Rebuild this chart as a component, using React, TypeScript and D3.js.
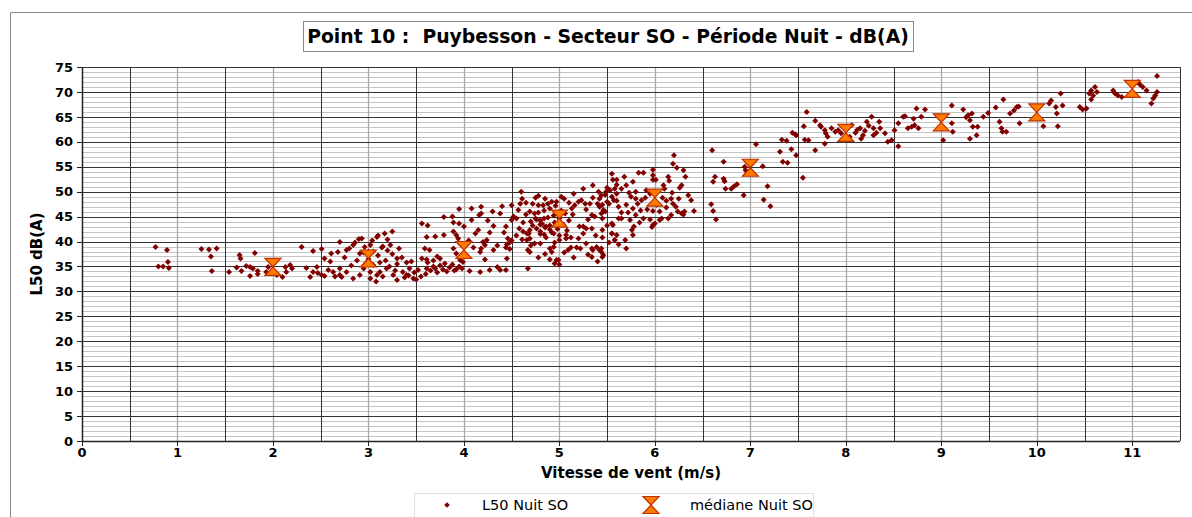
import React from "react";
import * as d3 from "d3";

const titleText = "Point 10 :  Puybesson - Secteur SO - Période Nuit - dB(A)";
const xAxisTitle = "Vitesse de vent (m/s)";
const yAxisTitle = "L50 dB(A)";
const seriesNames = ["L50 Nuit SO", "médiane Nuit SO"];
const xTicks = [0, 1, 2, 3, 4, 5, 6, 7, 8, 9, 10, 11];
const yTicks = [0, 5, 10, 15, 20, 25, 30, 35, 40, 45, 50, 55, 60, 65, 70, 75];

const medianSpeed = [2, 3, 4, 5, 6, 7, 8, 9, 10, 11];
const medianLevel = [34.9, 36.6, 38.3, 44.6, 48.8, 54.8, 61.8, 63.9, 65.9, 70.6];

const l50Points: [number, number][] = [
  [0.77, 38.9], [0.89, 38.3], [0.9, 35.9], [0.8, 35], [0.85, 35], [0.91, 34.7],
  [1.25, 38.5], [1.33, 38.4], [1.41, 38.6], [1.35, 37], [1.36, 34.1],
  [1.54, 33.9], [1.65, 37.3], [1.81, 37.7], [1.62, 34.8], [1.67, 34.1], [1.76, 34.9], [1.72, 35.1],
  [1.79, 34.6], [1.84, 34.1], [1.84, 33.5], [1.76, 33.1], [1.66, 36.6],
  [1.93, 33.9], [1.95, 34.9], [2.13, 34.9], [2.14, 33.9], [2.2, 34.6], [2.1, 32.9], [2.04, 33.3], [2.18, 35.3],
  [2.3, 38.9], [2.42, 38.1], [2.51, 38.5], [2.35, 34.7], [2.39, 32.9], [2.42, 33.9], [2.46, 34.9], [2.47, 33.7],
  [2.51, 33.3], [2.54, 33.1], [2.58, 34.3], [2.54, 36.6], [2.61, 37.6], [2.68, 37.9], [2.7, 39.9], [2.77, 38.3],
  [2.84, 39.3], [2.91, 37.6], [2.93, 40.6], [3.02, 39.3], [3.09, 40.9], [3.17, 41.6], [3.23, 39.3], [3.3, 36.6],
  [2.63, 33.9], [2.7, 34.6], [2.7, 33.3], [2.77, 33.9], [2.84, 32.6], [2.91, 33.3], [2.95, 34.6], [3.02, 33.9],
  [3.05, 35.3], [3.09, 33.3], [3.12, 33.9], [3.19, 34.6], [3.26, 33.3], [3.3, 32.3], [3.36, 33.9], [3.4, 33.3],
  [3.43, 34.6], [3.47, 32.6], [3.52, 34.3], [3.56, 36.6], [3.59, 38.6], [3.61, 34.6], [3.61, 40.9],
  [2.8, 38.6], [2.86, 39.8], [3.0, 38.0], [3.04, 40.2], [3.14, 38.8], [3.2, 40.4], [2.96, 38.9],
  [3.0, 36.5], [3.05, 38], [3.1, 37.2], [3.12, 35.8], [3.15, 39], [3.18, 36.2], [3.2, 38.2], [3.22, 35],
  [3.25, 37.5], [3.28, 34.2], [3.3, 35.5], [3.32, 38.6], [3.35, 36.8], [3.38, 32.8], [3.4, 35.8], [3.42, 33.2],
  [3.45, 36], [3.48, 33.8], [3.5, 32.4], [3.02, 32.6], [3.08, 32], [3.15, 33], [2.98, 35.8], [2.95, 37.8],
  [2.88, 36.2], [2.82, 35.2], [2.75, 36.8], [2.9, 40.5], [3.1, 41.2], [3.25, 42], [2.6, 36], [2.65, 33],
  [2.72, 32.9], [3.55, 33], [3.6, 33.5],
  [3.56, 43.6], [3.61, 36.4], [3.64, 38.3], [3.79, 44.9], [3.79, 41.3], [3.89, 43.8], [3.95, 43.6],
  [3.89, 42.0], [3.92, 41.3], [3.94, 40.6], [3.89, 38.6], [3.96, 39.6], [3.92, 37.6], [3.96, 36.3], [3.99, 35.9],
  [3.92, 34.4], [4.06, 34.1], [4.17, 33.9], [4.27, 34.3], [4.35, 34.9], [4.38, 34.3], [4.44, 34.3],
  [3.65, 34.2], [3.68, 35], [3.7, 34.6], [3.72, 33.8], [3.75, 35.2], [3.78, 34.4], [3.8, 35.6], [3.82, 34],
  [3.85, 34.8], [3.88, 35.4], [3.9, 34.2], [3.68, 36.2], [3.72, 37], [3.75, 36.6], [3.62, 35.8], [3.95, 35], [3.98, 34.6],
  [4.08, 46.6], [4.08, 44.3], [4.18, 47.0], [4.18, 45.6], [4.16, 45.3], [4.15, 42.3], [4.2, 39.9], [4.18, 38.6],
  [4.17, 37.9], [4.22, 39.3], [4.24, 40.3], [4.27, 41.8], [4.31, 43.1], [4.31, 38.3], [4.4, 47.1], [4.44, 43.0],
  [4.45, 39.4], [4.46, 40.6], [4.44, 38.8], [4.48, 39.8], [4.5, 40.2],
  [3.62, 43.2], [3.7, 41], [3.88, 45], [3.95, 46.5], [4.0, 43], [4.05, 40.2], [4.1, 38.8], [4.12, 41.6],
  [4.22, 36.4], [4.25, 44.2], [4.3, 46], [4.35, 39.2], [4.38, 45.6], [4.42, 41.8], [4.45, 36.6], [4.48, 38.5],
  [4.5, 47.3], [4.52, 45.0], [4.5, 44.3], [4.55, 44.6], [4.57, 46.3], [4.59, 47.6], [4.61, 48.6],
  [4.61, 40.4], [4.66, 40.3], [4.69, 40.6], [4.67, 38.3], [4.67, 34.6], [4.62, 42.0], [4.66, 41.6], [4.69, 42.3],
  [4.69, 46.0], [4.74, 45.6], [4.78, 47.3], [4.83, 47.3], [4.88, 47.6], [4.92, 48.0], [4.97, 48.0],
  [4.76, 44.4], [4.8, 43.4], [4.84, 44.6], [4.86, 43.0], [4.8, 42.0], [4.84, 41.4], [4.9, 42.4], [4.94, 41.6],
  [4.74, 39.6], [4.69, 37.9], [4.9, 38.6], [4.92, 37.9], [4.94, 38.9], [4.97, 36.3], [4.95, 35.6], [4.99, 36.3],
  [5.09, 38.3], [5.18, 38.8], [5.07, 41.3], [5.07, 40.6], [5.0, 40.3],
  [5.13, 46.6], [5.16, 47.3], [5.2, 48.0], [5.23, 48.3], [5.27, 47.6], [5.32, 47.6],
  [5.21, 43.0], [5.25, 43.0], [5.28, 42.6], [5.34, 42.6], [5.34, 45.3], [5.37, 45.0], [5.42, 47.0], [5.44, 45.6], [5.48, 46.0],
  [5.28, 39.6], [5.34, 38.6], [5.35, 38.3], [5.39, 38.9], [5.42, 38.3], [5.44, 37.9], [5.34, 36.9], [5.45, 36.9],
  [5.35, 51.3], [5.41, 50.0], [5.44, 49.3], [5.49, 50.0], [5.53, 50.3], [5.56, 52.4], [5.55, 49.0], [5.57, 48.3],
  [5.58, 50.6], [5.6, 49.6], [5.55, 43.6], [5.55, 41.6], [5.58, 40.3],
  [4.7, 44], [4.72, 43.2], [4.75, 44.6], [4.76, 42.6], [4.78, 45.8], [4.8, 44.2], [4.8, 41.5], [4.82, 43.5],
  [4.84, 46.2], [4.85, 42.8], [4.86, 40.8], [4.88, 44.8], [4.9, 43.2], [4.9, 46.6], [4.92, 41.8], [4.94, 45.2],
  [4.95, 43.8], [4.96, 47.2], [4.98, 42.5], [5.0, 44.6], [5.0, 41.2], [5.02, 46.2], [5.04, 43.4], [5.05, 48.6],
  [5.06, 45.6], [5.08, 42.2], [5.1, 44.2], [5.1, 47.8], [5.12, 40.8], [5.14, 45.4], [4.72, 47.6], [4.75, 48.8],
  [4.65, 45.4], [4.62, 43.8], [4.58, 42.6], [4.55, 41.2], [4.68, 41.6], [4.7, 39.2], [4.8, 39.6], [4.85, 37.5],
  [4.9, 36.4], [4.78, 36.8], [5.0, 35.4], [4.95, 39.8], [5.05, 37.8], [5.15, 36.8], [5.2, 40.6], [5.22, 38.6],
  [5.25, 41.6], [5.3, 44.4], [5.28, 46.4], [5.35, 48.8], [5.4, 47.6], [5.45, 44.6], [5.5, 48], [5.5, 43.2],
  [5.38, 41.2], [5.4, 36], [5.3, 37.4], [5.12, 38.8], [4.6, 50], [4.65, 47.8], [4.78, 49.2], [4.85, 48.6],
  [5.02, 49], [5.15, 49.6], [5.25, 50.6], [5.6, 48.2], [5.62, 47], [5.65, 45.8],
  [5.42, 48.6], [5.45, 47.4], [5.48, 49.4], [5.5, 50.8], [5.52, 47.6], [5.46, 46.3], [5.45, 42.3],
  [5.6, 52.4], [5.7, 51.3], [5.77, 52.0], [5.73, 49.8], [5.8, 50.0], [5.8, 48.6], [5.86, 48.3], [5.91, 50.3],
  [5.95, 49.6], [6.0, 50.0], [5.83, 53.8], [5.88, 53.8], [5.98, 54.4], [5.98, 53.3], [5.98, 52.4], [6.01, 52.4],
  [6.2, 57.3], [6.19, 55.6], [6.23, 54.8], [6.14, 53.0], [6.3, 54.3], [6.32, 53.0], [6.28, 51.3], [6.26, 50.8],
  [6.09, 51.3], [6.17, 48.6], [6.19, 47.6], [6.12, 48.2], [6.35, 49.3], [6.38, 48.3], [6.41, 46.1],
  [6.28, 45.6], [6.31, 46.0], [6.24, 46.0], [6.17, 45.3], [6.14, 44.6], [6.07, 44.6], [6.05, 44.3], [5.98, 43.3],
  [5.97, 42.9], [6.0, 43.6], [5.98, 46.1], [5.84, 43.8], [5.77, 46.6], [5.8, 45.3], [5.74, 44.3], [5.76, 42.3],
  [5.77, 41.3], [5.62, 44.6], [5.65, 44.6], [5.56, 43.3], [5.55, 41.6], [5.6, 41.3], [5.58, 40.3], [5.69, 40.3],
  [5.44, 38.6], [5.46, 37.3],
  [5.7, 47.4], [5.72, 45.8], [5.75, 49], [5.78, 43], [5.82, 47.6], [5.85, 46.2], [5.88, 44.6], [5.9, 48.8],
  [5.92, 46.4], [5.95, 44.4], [6.02, 47.4], [6.05, 46], [6.08, 48.8], [6.1, 50.6], [6.12, 46.8], [6.15, 52.2],
  [6.18, 49.8], [6.22, 47], [6.25, 48.6], [6.3, 45.4], [5.6, 51.4], [5.65, 50.6], [5.68, 53], [5.55, 53.6],
  [5.62, 39.4], [5.7, 38.6], [5.52, 39.8], [5.45, 40.8],
  [6.6, 58.3], [6.63, 53.0], [6.61, 52.0], [6.59, 47.5], [6.61, 46.1], [6.64, 44.4], [6.72, 56.0], [6.72, 52.6],
  [6.73, 52.1], [6.74, 50.6], [6.8, 50.6], [6.83, 51.1], [6.86, 51.5], [6.93, 49.3], [6.95, 54.3], [6.94, 55.0],
  [7.06, 59.5], [7.13, 55.1], [7.18, 51.1], [7.14, 48.4], [7.21, 47.1],
  [7.31, 58.0], [7.34, 56.0], [7.39, 55.8], [7.43, 58.5], [7.48, 57.3], [7.33, 60.4], [7.38, 60.2],
  [7.44, 61.8], [7.47, 61.5], [7.48, 61.3], [7.55, 52.8], [7.56, 63.1], [7.59, 66.0], [7.57, 60.4], [7.61, 60.3],
  [7.68, 58.3], [7.68, 64.2], [7.73, 63.3], [7.74, 63.0], [7.78, 62.3], [7.79, 61.7], [7.81, 61.0], [7.78, 59.6],
  [7.85, 62.7], [7.89, 62.0], [7.92, 62.3], [7.95, 61.7],
  [8.06, 63.3], [8.1, 61.8], [8.12, 62.4], [8.15, 62.7], [8.18, 61.3], [8.2, 62.2], [8.22, 64.0], [8.24, 63.2],
  [8.27, 65.0], [8.29, 62.7], [8.32, 61.8], [8.36, 62.7], [8.35, 64.0], [8.41, 61.7], [8.29, 61.3], [8.16, 60.6],
  [8.04, 61.0], [8.44, 60.0], [8.48, 60.3], [8.55, 59.1], [8.51, 62.3], [8.55, 63.7], [8.6, 65.0], [8.62, 65.1],
  [8.65, 62.7], [8.69, 63.0], [8.72, 63.3], [8.71, 64.6], [8.74, 66.7], [8.76, 62.7], [8.79, 65.0], [8.83, 66.5],
  [9.02, 60.3], [9.11, 67.3], [9.11, 63.7], [9.12, 62.0], [9.23, 66.5], [9.26, 64.9], [9.28, 65.3], [9.32, 65.7],
  [9.3, 64.3], [9.33, 63.0], [9.38, 63.0], [9.3, 60.6], [9.37, 61.3], [9.44, 65.0], [9.49, 65.8], [9.57, 66.9],
  [9.65, 68.5], [9.61, 64.0], [9.63, 62.7], [9.64, 62.0], [9.68, 62.0], [9.72, 65.7], [9.76, 66.3], [9.79, 67.0],
  [9.81, 67.1], [9.82, 63.7],
  [10.07, 63.1], [10.13, 67.7], [10.15, 68.3], [10.2, 67.0], [10.21, 65.7], [10.22, 63.1], [10.25, 69.7], [10.27, 67.3],
  [10.45, 67.0], [10.48, 66.5], [10.52, 66.7], [10.55, 69.7], [10.57, 70.3], [10.61, 71.0], [10.63, 70.0],
  [10.59, 69.3], [10.57, 68.5], [10.8, 70.3], [10.82, 69.7], [10.85, 69.3], [10.89, 69.0],
  [11.08, 71.5], [11.11, 71.0], [11.15, 70.3], [11.06, 72.0], [11.26, 73.2], [11.26, 70.0], [11.24, 69.3],
  [11.22, 68.7], [11.2, 67.7], [11.0, 71.3],
];

const W = 1192;
const H = 517;
const plotLeft = 82;
const plotRight = 1180;
const plotTop = 67;
const plotBottom = 441;

const x = d3.scaleLinear().domain([0, 11.5]).range([plotLeft, plotRight]);
const y = d3.scaleLinear().domain([0, 75]).range([plotBottom, plotTop]);

const crisp = (v: number) => Math.round(v) + 0.5;

const hourglass = (cx: number, cy: number, w: number, h: number) => {
  const p = d3.path();
  p.moveTo(cx - w / 2, cy - h / 2);
  p.lineTo(cx + w / 2, cy - h / 2);
  p.lineTo(cx - w / 2, cy + h / 2);
  p.lineTo(cx + w / 2, cy + h / 2);
  p.closePath();
  return p.toString();
};

const diamond = (cx: number, cy: number, r: number) => {
  const p = d3.path();
  p.moveTo(cx, cy - r);
  p.lineTo(cx + r, cy);
  p.lineTo(cx, cy + r);
  p.lineTo(cx - r, cy);
  p.closePath();
  return p.toString();
};

const FONT = "'DejaVu Sans', Verdana, sans-serif";
const DOT = "#800000";
const MED_FILL = "#ff7a00";
const MED_STROKE = "#c03000";

export default function App() {
  const minorY = d3.range(1, 75).filter((v) => v % 5 !== 0);
  const majorY = d3.range(5, 80, 5);
  const halfX = d3.range(0.5, 11.5, 1);
  const intX = d3.range(1, 12, 1);

  return (
    <svg
      width={W}
      height={H}
      style={{ position: "absolute", left: 0, top: 0, background: "#fff" }}
      fontFamily={FONT}
    >
      <rect x={0} y={0} width={W} height={H} fill="#fff" />
      {/* outer chart frame */}
      <path d={`M${crisp(10)},${H} V${crisp(12)} H${W}`} fill="none" stroke="#8a8a8a" strokeWidth={1} />

      {/* title */}
      <rect x={crisp(303)} y={crisp(21)} width={610} height={30} fill="#fff" stroke="#8a8a8a" strokeWidth={1} />
      <text
        x={608}
        y={42.5}
        textAnchor="middle"
        fontSize={18.8}
        fontWeight="bold"
        fill="#000"
        style={{ whiteSpace: "pre" }}
      >
        {titleText}
      </text>

      {/* minor horizontal grid */}
      {minorY.map((v) => (
        <line key={"my" + v} x1={plotLeft} x2={plotRight} y1={crisp(y(v))} y2={crisp(y(v))} stroke="#c4c4c4" strokeWidth={1} />
      ))}
      {/* vertical integer grid (light) */}
      {intX.map((v) => (
        <line key={"ix" + v} x1={crisp(x(v))} x2={crisp(x(v))} y1={plotTop} y2={plotBottom} stroke="#a8a8a8" strokeWidth={1.3} />
      ))}
      {/* major horizontal grid */}
      {majorY.map((v) => (
        <line key={"My" + v} x1={plotLeft} x2={plotRight} y1={crisp(y(v))} y2={crisp(y(v))} stroke="#333" strokeWidth={1} />
      ))}
      {/* vertical half grid (dark) */}
      {halfX.map((v) => (
        <line key={"hx" + v} x1={crisp(x(v))} x2={crisp(x(v))} y1={plotTop} y2={plotBottom} stroke="#333" strokeWidth={1} />
      ))}
      {/* frame */}
      <line x1={crisp(plotRight)} x2={crisp(plotRight)} y1={plotTop} y2={plotBottom} stroke="#333" strokeWidth={1} />
      <line x1={crisp(plotLeft)} x2={crisp(plotLeft)} y1={plotTop} y2={plotBottom + 0.5} stroke="#222" strokeWidth={1.5} />
      <line x1={plotLeft} x2={plotRight} y1={crisp(plotBottom)} y2={crisp(plotBottom)} stroke="#222" strokeWidth={1.5} />

      {/* y ticks */}
      {yTicks.map((v) => (
        <g key={"yt" + v}>
          <line x1={plotLeft - 5} x2={plotLeft} y1={crisp(y(v))} y2={crisp(y(v))} stroke="#222" strokeWidth={1} />
          <text x={73} y={y(v)} dy="0.36em" textAnchor="end" fontSize={13} fontWeight="bold" fill="#000">
            {v}
          </text>
        </g>
      ))}
      {/* x ticks */}
      {xTicks.map((v) => (
        <g key={"xt" + v}>
          <line x1={crisp(x(v))} x2={crisp(x(v))} y1={plotBottom} y2={plotBottom + 5} stroke="#222" strokeWidth={1} />
          <text x={x(v)} y={457} textAnchor="middle" fontSize={13} fontWeight="bold" fill="#000">
            {v}
          </text>
        </g>
      ))}

      {/* axis titles */}
      <text x={631} y={478} textAnchor="middle" fontSize={15} fontWeight="bold" fill="#000">
        {xAxisTitle}
      </text>
      <text
        transform={`translate(42,254) rotate(-90)`}
        textAnchor="middle"
        fontSize={15}
        fontWeight="bold"
        fill="#000"
      >
        {yAxisTitle}
      </text>

      {/* scatter points */}
      {l50Points.map(([s, l], i) => (
        <path key={"p" + i} d={diamond(x(s), y(l), 3)} fill={DOT} />
      ))}

      {/* medians */}
      {medianSpeed.map((s, i) => (
        <path
          key={"m" + i}
          d={hourglass(x(s), y(medianLevel[i]), 16, 17)}
          fill={MED_FILL}
          stroke={MED_STROKE}
          strokeWidth={1.2}
          strokeLinejoin="miter"
        />
      ))}

      {/* legend */}
      <rect x={crisp(414)} y={crisp(493)} width={399} height={40} fill="#fff" stroke="#e0e0e0" strokeWidth={1} />
      <path d={diamond(447, 505, 2.8)} fill={DOT} />
      <text x={482} y={510} fontSize={14.5} fill="#000">{seriesNames[0]}</text>
      <path d={hourglass(651, 505, 16, 17)} fill={MED_FILL} stroke={MED_STROKE} strokeWidth={1.2} />
      <text x={690} y={510} fontSize={14.5} fill="#000">{seriesNames[1]}</text>
    </svg>
  );
}
